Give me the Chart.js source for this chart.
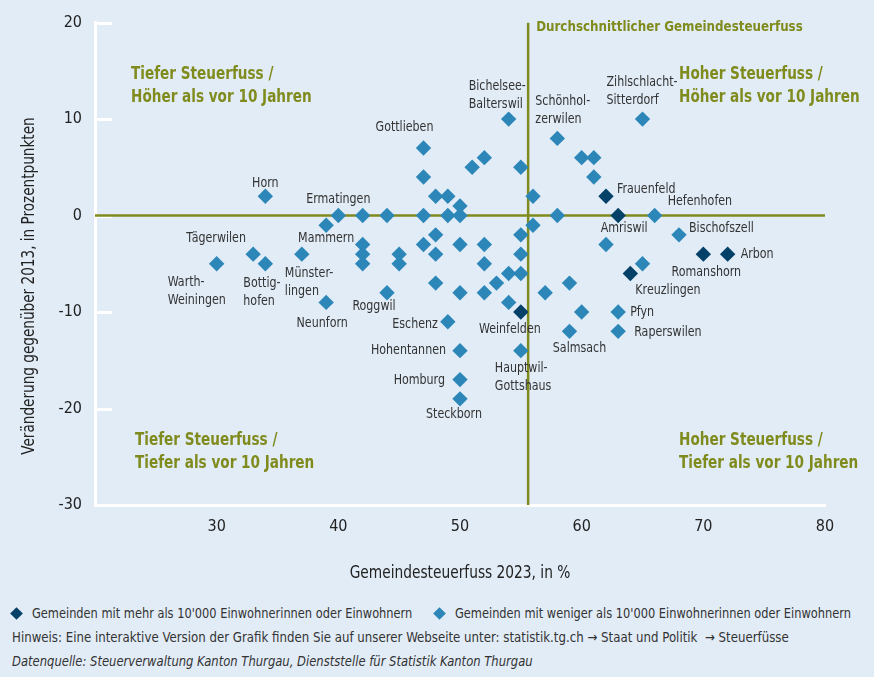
<!DOCTYPE html>
<html>
<head>
<meta charset="utf-8">
<script src="https://cdn.jsdelivr.net/npm/chart.js@4/dist/chart.umd.min.js"></script>
<style>
  body { margin: 0; background: #e2ecf7; font-family: "Liberation Sans Narrow", "DejaVu Sans Condensed", Arial, sans-serif; color: #333; }
  #wrap { position: relative; width: 874px; height: 600px; }
  .note { position: absolute; font-size: 14px; line-height: 17px; white-space: nowrap; transform-origin: left center; }
  .dia { position: absolute; width: 9px; height: 9px; transform: rotate(45deg); }
</style>
</head>
<body>
<div id="wrap"><canvas id="taxChart" width="874" height="600"></canvas></div>
<span class="dia" style="left:12px; top:609px; background:#034168"></span>
<div class="note" style="top:605px; left:32px; transform:scaleX(0.905)">Gemeinden mit mehr als 10'000 Einwohnerinnen oder Einwohnern</div>
<span class="dia" style="left:435px; top:609px; background:#2c87b8"></span>
<div class="note" style="top:605px; left:455px; transform:scaleX(0.905)">Gemeinden mit weniger als 10'000 Einwohnerinnen oder Einwohnern</div>
<div class="note" style="top:629px; left:12px; transform:scaleX(0.937)">Hinweis: Eine interaktive Version der Grafik finden Sie auf unserer Webseite unter: statistik.tg.ch → Staat und Politik &nbsp;→ Steuerfüsse</div>
<div class="note" style="top:653px; left:12px; font-style:italic; transform:scaleX(0.92)">Datenquelle: Steuerverwaltung Kanton Thurgau, Dienststelle für Statistik Kanton Thurgau</div>

<script>
// Gemeinden unter 10'000 Einwohner: Steuerfuss 2023 (%) und Veränderung ggü. 2013 (Prozentpunkte)
const smallRate = [30, 33, 34, 34, 37, 39, 39, 40, 42, 42, 42, 42, 44, 44, 45, 45,
    47, 47, 47, 47, 48, 48, 48, 48, 49, 49, 49, 50, 50, 50, 50, 50, 50, 50,
    51, 52, 52, 52, 52, 53, 54, 54, 54, 55, 55, 55, 55, 55, 56, 56, 57, 58, 58,
    59, 59, 60, 60, 61, 61, 62, 63, 63, 65, 65, 66, 68];
const smallChange = [-5, -4, -5, 2, -4, -1, -9, 0, 0, -3, -4, -5, 0, -8, -4, -5,
    7, 4, 0, -3, 2, -2, -4, -7, 2, 0, -11, 1, 0, -3, -8, -14, -17, -19,
    5, 6, -3, -5, -8, -7, 10, -6, -9, 5, -2, -4, -6, -14, 2, -1, -8, 8, 0,
    -7, -12, 6, -10, 6, 4, -3, -10, -12, 10, -5, 0, -2];
const smallNames = ["Warth-\nWeiningen", "Tägerwilen", "Bottig-\nhofen", "Horn", "Münster-\nlingen", "Mammern", "Neunforn", "Ermatingen", "", "", "", "", "", "Roggwil", "", "",
    "Gottlieben", "", "", "", "", "", "", "", "", "", "Eschenz", "", "", "", "", "Hohentannen", "Homburg", "Steckborn",
    "", "", "", "", "", "", "Bichelsee-\nBalterswil", "", "", "", "", "", "", "Hauptwil-\nGottshaus", "", "", "", "Schönhol-\nzerwilen", "",
    "", "Salmsach", "", "", "", "", "", "Pfyn", "Raperswilen", "Zihlschlacht-\nSitterdorf", "", "Hefenhofen", "Bischofszell"];

// Gemeinden über 10'000 Einwohner
const largeRate = [55, 62, 63, 64, 70, 72];
const largeChange = [-10, 2, 0, -6, -4, -4];
const largeNames = ["Weinfelden", "Frauenfeld", "Amriswil", "Kreuzlingen", "Romanshorn", "Arbon"];

const avgRate = 55.6;   // durchschnittlicher Gemeindesteuerfuss
const xTicks = [20, 30, 40, 50, 60, 70, 80];
const yTicks = [-30, -20, -10, 0, 10, 20];

const OLIVE = '#808b1d';
const FONT = '"Liberation Sans Narrow", "DejaVu Sans Condensed", Arial, sans-serif';

// label placement: [dx, dy, align]
const labelPos = {
    "Horn": [0, -13, 'center'], "Tägerwilen": [-37, -16, 'center'],
    "Warth-\nWeiningen": [-49, 19, 'left'], "Bottig-\nhofen": [-22, 20, 'left'],
    "Münster-\nlingen": [-17, 19, 'left'], "Mammern": [0, 13, 'center'],
    "Ermatingen": [0, -16, 'center'], "Neunforn": [-4, 21, 'center'],
    "Roggwil": [-13, 14, 'center'], "Gottlieben": [-19, -21, 'center'],
    "Eschenz": [-10, 3, 'right'], "Hohentannen": [-14, 0, 'right'],
    "Homburg": [-15, 1, 'right'], "Steckborn": [-6, 15, 'center'],
    "Weinfelden": [-11, 17, 'center'], "Hauptwil-\nGottshaus": [-26, 18, 'left'],
    "Bichelsee-\nBalterswil": [-40, -33, 'left'], "Schönhol-\nzerwilen": [-22, -37, 'left'],
    "Salmsach": [10, 17, 'center'], "Zihlschlacht-\nSitterdorf": [-36, -37, 'left'],
    "Frauenfeld": [11, -7, 'left'], "Hefenhofen": [13, -14, 'left'],
    "Amriswil": [6, 13, 'center'], "Bischofszell": [10, -6, 'left'],
    "Arbon": [13, 0, 'left'], "Romanshorn": [3, 18, 'center'],
    "Kreuzlingen": [5, 17, 'left'], "Pfyn": [12, 0, 'left'], "Raperswilen": [16, 1, 'left']
};

const toPoints = (xs, ys) => xs.map((x, i) => ({x: x, y: ys[i]}));

// schmale Schrift nachbilden: horizontal stauchen
function narrowText(ctx, text, x, y, align, sx) {
    ctx.save();
    ctx.translate(x, y);
    ctx.scale(sx, 1);
    ctx.textAlign = align;
    ctx.fillText(text, 0, 0);
    ctx.restore();
}

const decorPlugin = {
    id: 'decor',
    beforeDatasetsDraw(chart) {
        const ctx = chart.ctx, ys = chart.scales.y, area = chart.chartArea;
        ctx.save();
        ctx.strokeStyle = '#ffffff';
        ctx.lineWidth = 3;
        yTicks.forEach(v => {
            if (v === -30) return;
            let py = Math.round(ys.getPixelForValue(v)) + 0.5;
            ctx.beginPath();
            ctx.moveTo(area.left, py);
            ctx.lineTo(area.left + 17, py);
            ctx.stroke();
        });
        ctx.restore();
    },
    afterDatasetsDraw(chart) {
        const ctx = chart.ctx, area = chart.chartArea, xs = chart.scales.x;
        ctx.save();
        ctx.textBaseline = 'middle';

        // Ortsnamen
        ctx.fillStyle = '#333';
        ctx.font = '14px ' + FONT;
        [[0, smallNames], [1, largeNames]].forEach(([di, names]) => {
            chart.getDatasetMeta(di).data.forEach((pt, i) => {
                let name = names[i];
                if (!name) return;
                let p = labelPos[name] || [0, -14, 'center'];
                name.split('\n').forEach((line, k) => {
                    narrowText(ctx, line, pt.x + p[0], pt.y + p[1] + k * 18, p[2], 0.88);
                });
            });
        });

        // Quadranten
        ctx.fillStyle = OLIVE;
        ctx.font = 'bold 18px ' + FONT;
        const quad = [
            [area.left + 36, area.top + 52, "Tiefer Steuerfuss /", "Höher als vor 10 Jahren"],
            [area.left + 584, area.top + 52, "Hoher Steuerfuss /", "Höher als vor 10 Jahren"],
            [area.left + 40, area.top + 418, "Tiefer Steuerfuss /", "Tiefer als vor 10 Jahren"],
            [area.left + 584, area.top + 418, "Hoher Steuerfuss /", "Tiefer als vor 10 Jahren"]
        ];
        quad.forEach(q => {
            narrowText(ctx, q[2], q[0], q[1], 'left', 0.84);
            narrowText(ctx, q[3], q[0], q[1] + 23, 'left', 0.84);
        });
        ctx.font = 'bold 14px ' + FONT;
        narrowText(ctx, "Durchschnittlicher Gemeindesteuerfuss", xs.getPixelForValue(avgRate) + 8, area.top + 5, 'left', 0.945);

        // Achsentitel
        ctx.fillStyle = '#222';
        ctx.font = '17px ' + FONT;
        narrowText(ctx, "Gemeindesteuerfuss 2023, in %", (area.left + area.right) / 2, 574, 'center', 0.9);
        ctx.translate(30, 286);
        ctx.rotate(-Math.PI / 2);
        narrowText(ctx, "Veränderung gegenüber 2013, in Prozentpunkten", 0, 0, 'center', 0.89);
        ctx.restore();
    }
};

new Chart(document.getElementById('taxChart'), {
    type: 'scatter',
    plugins: [decorPlugin],
    data: {
        datasets: [
            {
                label: "Gemeinden mit weniger als 10'000 Einwohnerinnen oder Einwohnern",
                data: toPoints(smallRate, smallChange),
                pointStyle: 'rectRot',
                pointRadius: 7.7,
                backgroundColor: '#2c87b8',
                borderWidth: 0,
                order: 2
            },
            {
                label: "Gemeinden mit mehr als 10'000 Einwohnerinnen oder Einwohnern",
                data: toPoints(largeRate, largeChange),
                pointStyle: 'rectRot',
                pointRadius: 7.7,
                backgroundColor: '#034168',
                borderWidth: 0,
                order: 1
            },
            {
                type: 'line',
                data: [{x: xTicks[0], y: 0}, {x: xTicks[xTicks.length - 1], y: 0}],
                borderColor: OLIVE,
                borderWidth: 2.5,
                pointRadius: 0,
                order: 5
            },
            {
                type: 'line',
                data: [{x: avgRate, y: yTicks[0]}, {x: avgRate, y: yTicks[yTicks.length - 1]}],
                borderColor: OLIVE,
                borderWidth: 2.5,
                pointRadius: 0,
                order: 5
            }
        ]
    },
    options: {
        responsive: false,
        animation: false,
        layout: { padding: { top: 18, right: 49, left: 0, bottom: 0 } },
        plugins: {
            legend: { display: false },
            tooltip: { enabled: false }
        },
        scales: {
            x: {
                type: 'linear',
                min: 20, max: 80,
                afterFit: s => { s.height = 95; },
                grid: { display: true, color: 'rgba(0,0,0,0)', drawTicks: false },
                border: { color: '#ffffff', width: 3 },
                ticks: {
                    stepSize: 10, padding: 12, color: '#222',
                    font: { family: FONT, size: 16 },
                    callback: v => v === 20 ? '' : v
                }
            },
            y: {
                type: 'linear',
                min: -30, max: 20,
                afterFit: s => { s.width = 95; },
                grid: { display: true, color: 'rgba(0,0,0,0)', drawTicks: false },
                border: { color: '#ffffff', width: 3 },
                ticks: {
                    stepSize: 10, padding: 13, color: '#222',
                    font: { family: FONT, size: 16 }
                }
            }
        }
    }
});
</script>
</body>
</html>
